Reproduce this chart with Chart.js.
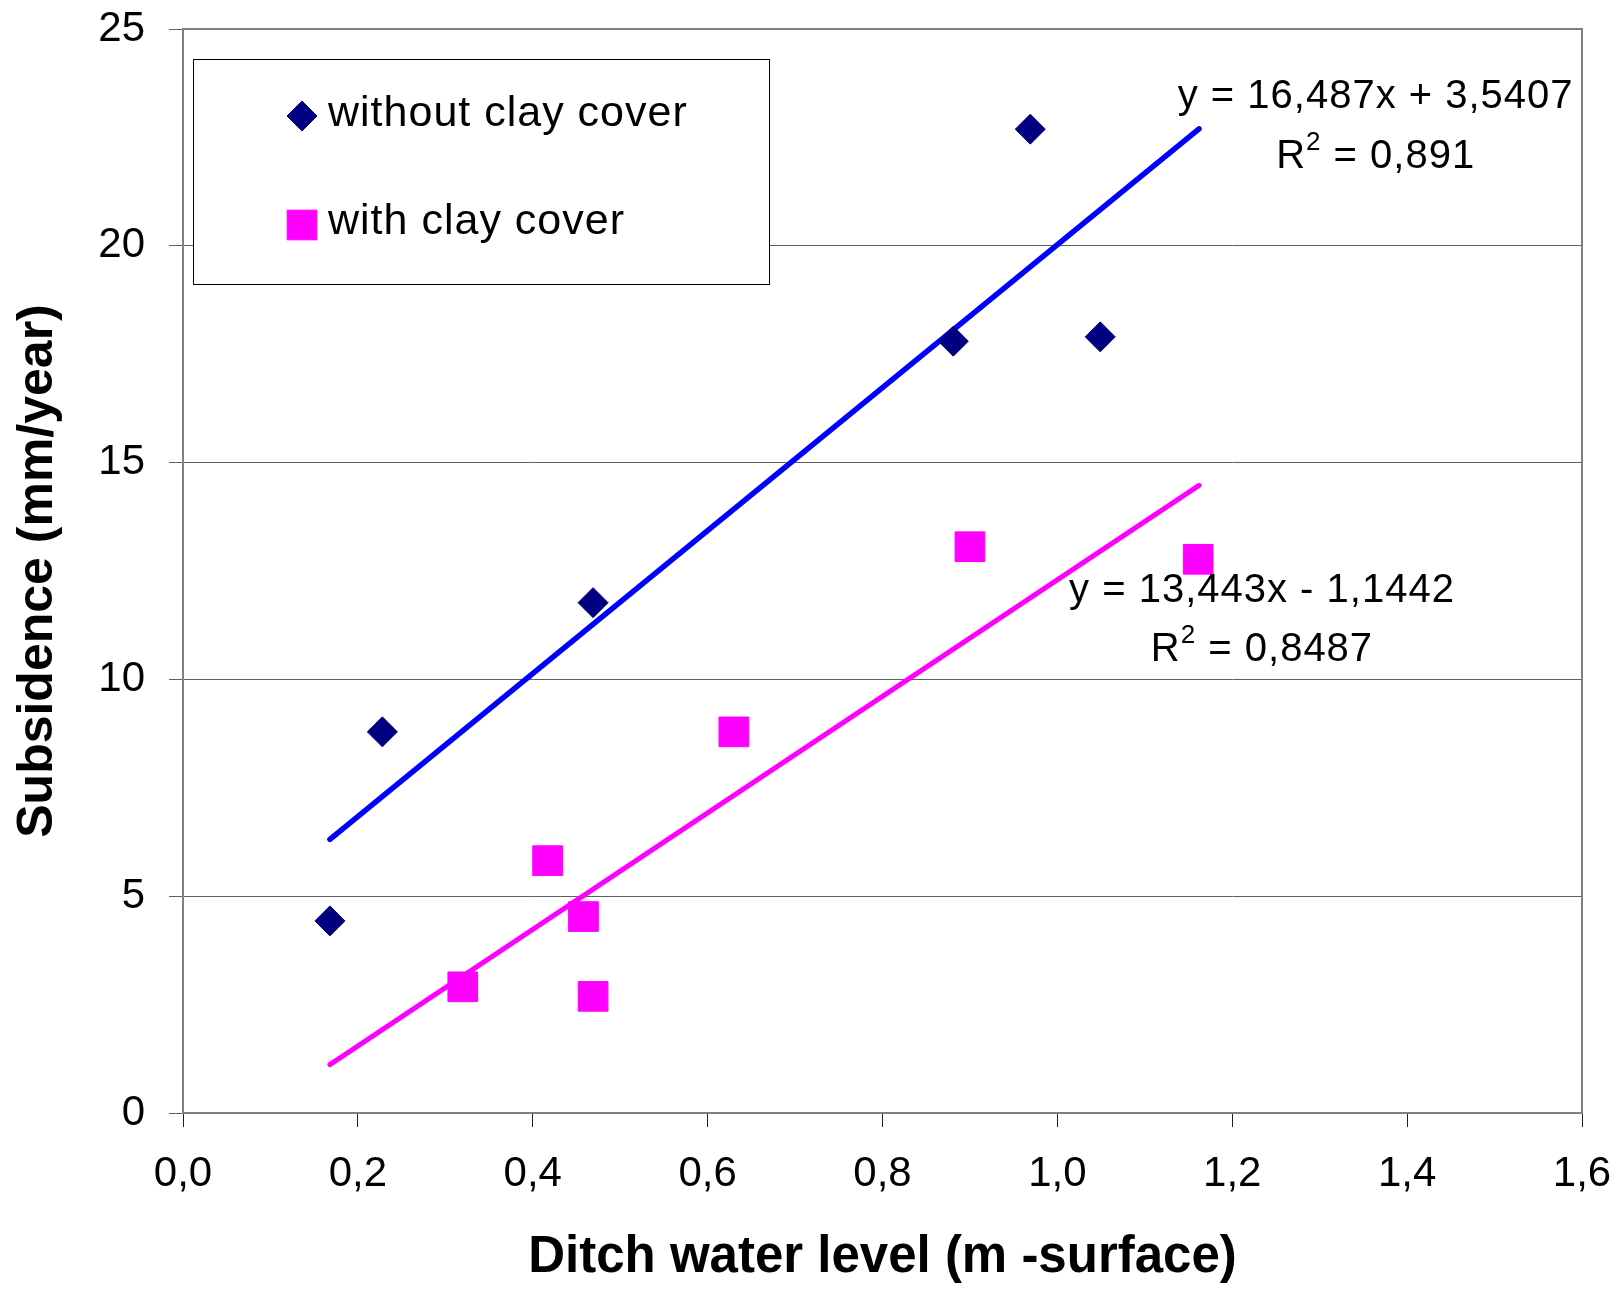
<!DOCTYPE html>
<html>
<head>
<meta charset="utf-8">
<title>Subsidence vs ditch water level</title>
<script src="https://cdn.jsdelivr.net/npm/chart.js@4.4.1/dist/chart.umd.min.js"></script>
<style>
  html, body { margin: 0; padding: 0; background: #fff; }
</style>
</head>
<body>
<canvas id="subsidence-chart" width="1621" height="1291"></canvas>
<script>
// Ditch water level (m below surface) against subsidence (mm/year)
const seriesNames = ['without clay cover', 'with clay cover'];

const noClayX = [0.168, 0.228, 0.469, 0.881, 0.969, 1.049];
const noClayY = [4.43, 8.79, 11.77, 17.80, 22.69, 17.90];

const clayX = [0.320, 0.417, 0.458, 0.469, 0.630, 0.900, 1.161];
const clayY = [2.91, 5.82, 4.53, 2.69, 8.79, 13.06, 12.77];

// linear fits, as printed on the chart
const fitSlope = [16.487, 13.443];
const fitIntercept = [3.5407, -1.1442];
const fitEquation = ['y = 16,487x + 3,5407', 'y = 13,443x - 1,1442'];
const fitR2 = ['0,891', '0,8487'];
const fitRange = [0.168, 1.162];

const FONT = "'Liberation Sans', Arial, Helvetica, sans-serif";
const colors = {
    noClay: '#000080',
    clay: '#ff00ff',
    noClayFit: '#0000ff',
    clayFit: '#ff00ff',
    frame: '#808080',
    grid: '#5e5e5e'
};

function toPoints(xs, ys) {
    return xs.map((x, i) => ({ x: x, y: ys[i] }));
}

function fitLine(k) {
    return fitRange.map(x => ({ x: x, y: fitSlope[k] * x + fitIntercept[k] }));
}

// where the equation text sits, in axis units (x, baseline y of first line)
const equationAnchor = [
    { x: 1.364, y: 23.18, gap: 60 },
    { x: 1.234, y: 11.79, gap: 59 }
];

// top and right edges of the plot area
const plotFrame = {
    id: 'plotFrame',
    afterDraw(chart) {
        const { ctx, chartArea: a } = chart;
        ctx.save();
        ctx.strokeStyle = colors.frame;
        ctx.lineWidth = 2;
        ctx.beginPath();
        ctx.moveTo(a.left, a.top);
        ctx.lineTo(a.right, a.top);
        ctx.lineTo(a.right, a.bottom);
        ctx.stroke();
        ctx.restore();
    }
};

// boxed legend in the upper-left corner of the plot
const boxLegend = {
    id: 'boxLegend',
    beforeDatasetsDraw(chart) {
        const { ctx, chartArea: a } = chart;
        const box = { x: a.left + 10, y: a.top + 30, w: 576, h: 225 };
        ctx.save();
        ctx.fillStyle = '#fff';
        ctx.fillRect(box.x, box.y, box.w, box.h);
        ctx.strokeStyle = '#000';
        ctx.lineWidth = 1;
        ctx.strokeRect(box.x + 0.5, box.y + 0.5, box.w, box.h);

        const rows = [
            { ds: chart.data.datasets[0], markerY: box.y + 57, textY: box.y + 67 },
            { ds: chart.data.datasets[1], markerY: box.y + 166, textY: box.y + 175 }
        ];
        rows.forEach(r => {
            ctx.fillStyle = r.ds.pointBackgroundColor;
            ctx.strokeStyle = r.ds.pointBorderColor;
            Chart.helpers.drawPoint(ctx, {
                pointStyle: r.ds.pointStyle,
                radius: r.ds.pointRadius,
                rotation: 0,
                borderWidth: 1
            }, box.x + 109, r.markerY);
            ctx.fillStyle = '#000';
            ctx.font = '43px ' + FONT;
            ctx.letterSpacing = '1px';
            ctx.textAlign = 'left';
            ctx.textBaseline = 'alphabetic';
            ctx.fillText(r.ds.label, box.x + 135, r.textY);
        });
        ctx.restore();
    }
};

// regression equations and R² next to each fit line
const fitLabels = {
    id: 'fitLabels',
    afterDatasetsDraw(chart) {
        const { ctx, scales } = chart;
        ctx.save();
        ctx.fillStyle = '#000';
        ctx.textBaseline = 'alphabetic';
        ctx.letterSpacing = '1px';
        equationAnchor.forEach((p, k) => {
            const cx = scales.x.getPixelForValue(p.x);
            const by = scales.y.getPixelForValue(p.y);
            ctx.font = '40px ' + FONT;
            ctx.textAlign = 'center';
            ctx.fillText(fitEquation[k], cx, by);

            // R² with a raised 2
            const rest = ' = ' + fitR2[k];
            ctx.font = '40px ' + FONT;
            const wR = ctx.measureText('R').width;
            const wRest = ctx.measureText(rest).width;
            ctx.font = '26px ' + FONT;
            const w2 = ctx.measureText('2').width;
            let x = cx - (wR + w2 + wRest) / 2;
            const y2 = by + p.gap;
            ctx.textAlign = 'left';
            ctx.font = '40px ' + FONT;
            ctx.fillText('R', x, y2);
            x += wR;
            ctx.font = '26px ' + FONT;
            ctx.fillText('2', x, y2 - 18);
            x += w2;
            ctx.font = '40px ' + FONT;
            ctx.fillText(rest, x, y2);
        });
        ctx.restore();
    }
};

const ctx = document.getElementById('subsidence-chart');

new Chart(ctx, {
    type: 'scatter',
    data: {
        datasets: [
            {
                label: seriesNames[0],
                data: toPoints(noClayX, noClayY),
                pointStyle: 'rectRot',
                pointRadius: 15,
                pointBackgroundColor: colors.noClay,
                pointBorderColor: colors.noClay,
                pointBorderWidth: 1
            },
            {
                label: seriesNames[1],
                data: toPoints(clayX, clayY),
                pointStyle: 'rect',
                pointRadius: 21,
                pointBackgroundColor: colors.clay,
                pointBorderColor: colors.clay,
                pointBorderWidth: 1
            },
            {
                type: 'line',
                label: 'fit ' + seriesNames[0],
                data: fitLine(0),
                borderColor: colors.noClayFit,
                borderWidth: 5.5,
                borderCapStyle: 'round',
                pointRadius: 0,
                fill: false
            },
            {
                type: 'line',
                label: 'fit ' + seriesNames[1],
                data: fitLine(1),
                borderColor: colors.clayFit,
                borderWidth: 5,
                borderCapStyle: 'round',
                pointRadius: 0,
                fill: false
            }
        ]
    },
    options: {
        responsive: false,
        animation: false,
        layout: {
            padding: { left: 0, right: 39, top: 29, bottom: 0 }
        },
        plugins: {
            legend: { display: false },
            tooltip: { enabled: false }
        },
        scales: {
            x: {
                type: 'linear',
                min: 0,
                max: 1.6,
                ticks: {
                    stepSize: 0.2,
                    autoSkip: false,
                    maxRotation: 0,
                    padding: 22,
                    color: '#000',
                    font: { family: FONT, size: 42 },
                    callback: value => value.toFixed(1).replace('.', ',')
                },
                grid: {
                    drawOnChartArea: false,
                    drawTicks: true,
                    tickLength: 14,
                    color: '#222',
                    lineWidth: 1
                },
                border: { display: true, color: colors.frame, width: 2 },
                title: {
                    display: true,
                    text: 'Ditch water level (m -surface)',
                    color: '#000',
                    font: { family: FONT, size: 51, weight: 'bold' },
                    padding: { top: 0, bottom: 2 }
                },
                afterFit: scale => {
                    scale.height = 178;
                    scale.paddingLeft = 0;
                    scale.paddingRight = 0;
                }
            },
            y: {
                type: 'linear',
                min: 0,
                max: 25,
                ticks: {
                    stepSize: 5,
                    padding: 24,
                    color: '#000',
                    font: { family: FONT, size: 42 }
                },
                grid: {
                    color: colors.grid,
                    lineWidth: 1,
                    drawTicks: true,
                    tickLength: 14
                },
                border: { display: true, color: colors.frame, width: 2 },
                title: {
                    display: true,
                    text: 'Subsidence (mm/year)',
                    color: '#000',
                    font: { family: FONT, size: 50, weight: 'bold' },
                    padding: { top: 8, bottom: 0 }
                },
                afterFit: scale => {
                    scale.width = 183;
                    scale.paddingTop = 0;
                    scale.paddingBottom = 0;
                }
            }
        }
    },
    plugins: [plotFrame, boxLegend, fitLabels]
});
</script>
</body>
</html>
